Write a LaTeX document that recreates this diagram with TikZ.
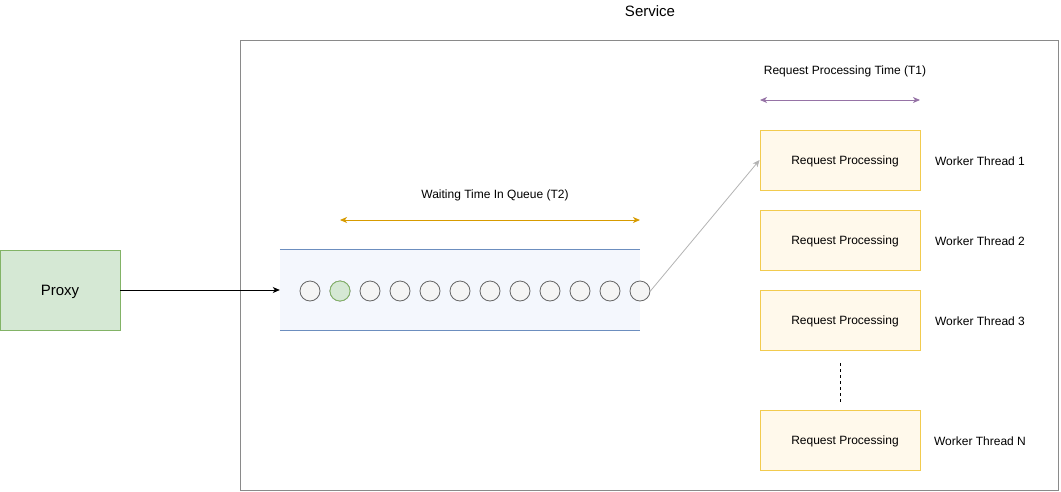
\documentclass[tikz,border=0pt]{standalone}
\usepackage{fontspec}
\setmainfont{Liberation Sans}
\usetikzlibrary{arrows.meta}
\definecolor{svcgray}{HTML}{8A8A8A}
\definecolor{proxyfill}{HTML}{D5E8D4}
\definecolor{proxydraw}{HTML}{82B366}
\definecolor{qfill}{HTML}{F4F7FD}
\definecolor{qline}{HTML}{6C8EBF}
\definecolor{cfill}{HTML}{F5F5F5}
\definecolor{cdraw}{HTML}{666666}
\definecolor{orangec}{HTML}{D79B00}
\definecolor{purplec}{HTML}{9673A6}
\definecolor{wfill}{HTML}{FFF9EB}
\definecolor{wdraw}{HTML}{F2CB4E}
\definecolor{linkgray}{HTML}{B3B3B3}
\tikzset{
  tip/.style={-{Stealth[length=7pt,width=6pt,inset=2pt]}},
  dtip/.style={{Stealth[length=7pt,width=6pt,inset=2pt]}-{Stealth[length=7pt,width=6pt,inset=2pt]}},
  qcirc/.style={circle,draw=cdraw,fill=cfill,minimum size=20pt,inner sep=0pt,line width=0.8pt},
  wbox/.style={draw=wdraw,fill=wfill,minimum width=160pt,minimum height=60pt,inner sep=0pt,line width=0.9pt},
  lbl/.style={font=\fontsize{12}{14}\selectfont,inner sep=0pt},
}
\begin{document}
\begin{tikzpicture}[x=1pt,y=-1pt]
\useasboundingbox (0,0) rectangle (1061,491);
% service
\node[draw=svcgray,line width=0.8pt,minimum width=818pt,minimum height=450pt,inner sep=0pt,anchor=north west] (svc) at (240,40) {};
\node[font=\fontsize{15}{17}\selectfont,inner sep=0pt] (svclbl) at (650,11) {Service};
% proxy
\node[draw=proxydraw,fill=proxyfill,line width=0.8pt,minimum width=120pt,minimum height=80pt,inner sep=0pt] (proxy) at (60,290) {};
\node[font=\fontsize{15}{17}\selectfont,inner sep=0pt] (proxylbl) at (60,292) {Proxy};
% queue
\node[fill=qfill,minimum width=360pt,minimum height=80pt,inner sep=0pt] (queue) at (460,290) {};
\draw[qline,line width=0.8pt] (queue.north west) -- (queue.north east);
\draw[qline,line width=0.8pt] (queue.south west) -- (queue.south east);
\foreach \i in {1,...,12}{
  \node[qcirc] (c\i) at ({280+30*\i},291) {};
}
\node[qcirc,draw=proxydraw,fill=proxyfill] (c2g) at (c2) {};
\draw[tip,line width=0.8pt] (proxy.east) -- (queue.west);
% waiting time
\coordinate (wa) at (340,220);
\coordinate (wb) at (640,220);
\draw[dtip,orangec,line width=0.9pt] (wa) -- (wb);
\node[lbl] (wlbl) at (495,195) {Waiting Time In Queue (T2)};
% workers
\node[wbox] (w1) at (840,160) {};
\node[wbox] (w2) at (840,240) {};
\node[wbox] (w3) at (840,320) {};
\node[wbox] (w4) at (840,440) {};
\node[lbl] (r1) at (845,161) {Request Processing};
\node[lbl] (r2) at (845,241) {Request Processing};
\node[lbl] (r3) at (845,321) {Request Processing};
\node[lbl] (r4) at (845,441) {Request Processing};
\node[lbl] (t1) at (980,161) {Worker Thread 1};
\node[lbl] (t2) at (980,241) {Worker Thread 2};
\node[lbl] (t3) at (980,321) {Worker Thread 3};
\node[lbl] (t4) at (980,441) {Worker Thread N};
\coordinate (da) at (840,363);
\coordinate (db) at (840,402);
\draw[line width=0.8pt,dash pattern=on 3pt off 3pt] (da) -- (db);
% processing time
\coordinate (pa) at (760,100);
\coordinate (pb) at (920,100);
\draw[dtip,purplec,line width=0.9pt] (pa) -- (pb);
\node[lbl] (plbl) at (845,71) {Request Processing Time (T1)};
% link
\draw[tip,linkgray,line width=0.8pt] (c12.east) -- (w1.west);
\end{tikzpicture}
\end{document}
